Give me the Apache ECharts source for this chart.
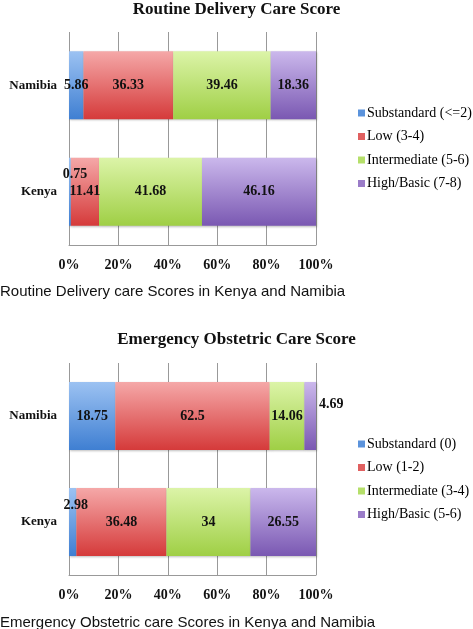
<!DOCTYPE html>
<html><head><meta charset="utf-8">
<script src="https://cdn.jsdelivr.net/npm/echarts@6/dist/echarts.min.js"></script>
<style>html,body{margin:0;padding:0;background:#fff}#c{width:473px;height:629px}</style>
</head><body><div id="c"></div>
<script>
const countries = ['Kenya', 'Namibia'];
const xTicks = [0, 20, 40, 60, 80, 100];

const rdcNames = ['Substandard (<=2)', 'Low (3-4)', 'Intermediate (5-6)', 'High/Basic (7-8)'];
const rdcSubstandard = [0.75, 5.86];
const rdcLow = [11.41, 36.33];
const rdcIntermediate = [41.68, 39.46];
const rdcHigh = [46.16, 18.36];

const emocNames = ['Substandard (0)', 'Low (1-2)', 'Intermediate (3-4)', 'High/Basic (5-6)'];
const emocSubstandard = [2.98, 18.75];
const emocLow = [36.48, 62.5];
const emocIntermediate = [34, 14.06];
const emocHigh = [26.55, 4.69];

const titles = ['Routine Delivery Care Score', 'Emergency Obstetric Care Score'];
const captions = ['Routine Delivery care Scores in Kenya and Namibia', 'Emergency Obstetric care Scores in Kenya and Namibia'];

const SERIF = '"Liberation Serif", "DejaVu Serif", serif';
const SANS = '"Liberation Sans", Arial, sans-serif';

function grad(top, bottom) {
  return {type: 'linear', x: 0, y: 0, x2: 0, y2: 1, colorStops: [{offset: 0, color: top}, {offset: 1, color: bottom}]};
}
const colors = [
  grad('#9cc2f2', '#3f7fd2'),
  grad('#f5a8a8', '#d53a3a'),
  grad('#dcf4a8', '#9fcf45'),
  grad('#cbb8ec', '#7a58b2')
];
const legendColors = ['#5b93dc', '#e06060', '#b5df6a', '#9a7cc8'];

// per-label offsets for tiny segments [grid][series][category]
const labelOffsets = {
  '0-0-0': {offset: [5, -17]},
  '1-0-0': {offset: [3, -17]},
  '1-3-1': {position: 'right', offset: [-2, -12]}
};

function makeSeries(gi, names, arrays) {
  return arrays.map((arr, si) => ({
    name: names[si],
    type: 'bar',
    stack: 'g' + gi,
    xAxisIndex: gi, yAxisIndex: gi,
    barWidth: 68,
    itemStyle: {color: colors[si], shadowColor: 'rgba(0,0,0,0.25)', shadowBlur: 2, shadowOffsetX: 1, shadowOffsetY: 1},
    label: {show: true, position: 'inside', color: '#111', fontFamily: SERIF, fontWeight: 'bold', fontSize: 14},
    data: arr.map((v, ci) => {
      const o = labelOffsets[gi + '-' + si + '-' + ci];
      return o ? {value: v, label: o} : v;
    })
  }));
}

const chart = echarts.init(document.getElementById('c'), null, {renderer: 'canvas'});
const grids = [
  {left: 69, width: 247, top: 32, height: 213},
  {left: 69, width: 247, top: 363, height: 212}
];
const xAxes = grids.map((g, i) => ({
  type: 'value', gridIndex: i, min: xTicks[0], max: xTicks[xTicks.length - 1], interval: 20,
  axisLine: {show: true, lineStyle: {color: '#999'}},
  axisTick: {show: false},
  splitLine: {show: true, lineStyle: {color: '#999', width: 1}},
  axisLabel: {formatter: '{value}%', color: '#111', fontFamily: SERIF, fontWeight: 'bold', fontSize: 14, margin: 13}
}));
const yAxes = grids.map((g, i) => ({
  type: 'category', gridIndex: i, data: countries,
  axisLine: {show: false}, axisTick: {show: false},
  axisLabel: {color: '#111', fontFamily: SERIF, fontWeight: 'bold', fontSize: 13, margin: 12}
}));

const legendBase = {
  orient: 'vertical', left: 353, itemWidth: 7, itemHeight: 7, itemGap: 9.5, icon: 'rect',
  textStyle: {color: '#000', fontFamily: SERIF, fontSize: 14, fontWeight: 'normal', padding: [0, 0, 0, -3]}
};

const option = {
  animation: false,
  color: legendColors,
  title: [
    {text: titles[0], left: 'center', top: -4, textStyle: {fontFamily: SERIF, fontWeight: 'bold', fontSize: 17, color: '#111'}},
    {text: titles[1], left: 'center', top: 326, textStyle: {fontFamily: SERIF, fontWeight: 'bold', fontSize: 17, color: '#111'}},
    {text: captions[0], left: -5, top: 279, textStyle: {fontFamily: SANS, fontWeight: 'normal', fontSize: 15, color: '#111'}},
    {text: captions[1], left: -5, top: 610, textStyle: {fontFamily: SANS, fontWeight: 'normal', fontSize: 15, color: '#111'}}
  ],
  legend: [
    Object.assign({}, legendBase, {top: 101, data: rdcNames.map((n, i) => ({name: n, itemStyle: {color: legendColors[i]}}))}),
    Object.assign({}, legendBase, {top: 432, data: emocNames.map((n, i) => ({name: n, itemStyle: {color: legendColors[i]}}))})
  ],
  grid: grids,
  xAxis: xAxes,
  yAxis: yAxes,
  series: makeSeries(0, rdcNames, [rdcSubstandard, rdcLow, rdcIntermediate, rdcHigh])
    .concat(makeSeries(1, emocNames, [emocSubstandard, emocLow, emocIntermediate, emocHigh]))
};
chart.setOption(option);
</script></body></html>
